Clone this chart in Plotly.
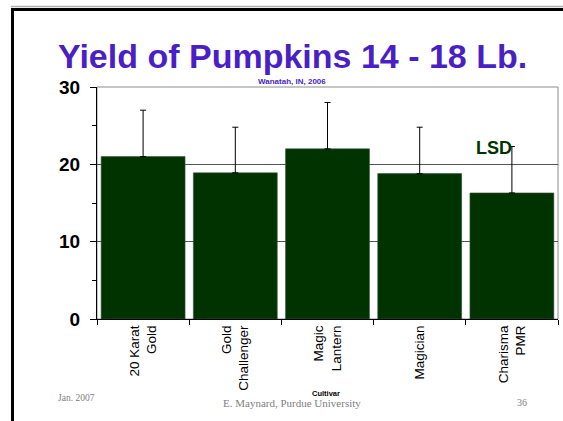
import plotly.graph_objects as go

cultivars = ["20 Karat<br>Gold", "Gold<br>Challenger", "Magic<br>Lantern", "Magician", "Charisma<br>PMR"]
yield_vals = [21.0, 18.9, 22.0, 18.8, 16.3]
error_vals = [6.0, 5.9, 6.0, 6.0, 6.0]
y_ticks = [0, 10, 20, 30]

W, H = 563, 421
L, R, T, B = 97, 5, 87, 102
PW, PH = W - L - R, H - T - B


def px(x):
    return (x - L) / PW


def py(y):
    return (H - B - y) / PH


fig = go.Figure()
fig.add_trace(go.Bar(
    x=cultivars, y=yield_vals,
    marker=dict(color="#003300", line=dict(width=0.6, color="#35553a")),
    error_y=dict(type="data", symmetric=False, array=error_vals,
                 arrayminus=[0] * len(error_vals),
                 color="black", thickness=1, width=3),
))

purple = "#4a1fc6"
ann = [
    dict(text="<b>Yield of Pumpkins 14 - 18 Lb.</b>", x=px(292), y=py(56),
         font=dict(family="Arial, Liberation Sans", size=34, color=purple)),
    dict(text="<b>Wanatah, IN, 2006</b>", x=px(292), y=py(81.5),
         font=dict(family="Arial, Liberation Sans", size=8, color=purple)),
    dict(text="<b>Cultivar</b>", x=px(325.5), y=py(393),
         font=dict(family="Arial, Liberation Sans", size=7.5, color="black")),
    dict(text="Jan. 2007", x=px(76.5), y=py(398),
         font=dict(family="Liberation Serif, Times New Roman", size=9.5, color="#808080")),
    dict(text="E. Maynard, Purdue University", x=px(291.5), y=py(402.5),
         font=dict(family="Liberation Serif, Times New Roman", size=11, color="#808080")),
    dict(text="36", x=px(521.7), y=py(402.5),
         font=dict(family="Liberation Serif, Times New Roman", size=10, color="#808080")),
]
annotations = [dict(a, xref="paper", yref="paper", showarrow=False,
                    xanchor="center", yanchor="middle") for a in ann]
annotations.append(dict(text="<b>LSD</b>", x=3.81, y=22.1, xref="x", yref="y",
                        showarrow=False, xanchor="center", yanchor="middle",
                        font=dict(family="Arial, Liberation Sans", size=18, color="#003300")))

shapes = [
    # plot area border (gray)
    dict(type="rect", xref="paper", yref="paper", x0=0, x1=1, y0=0, y1=1,
         line=dict(color="#8c8c8c", width=1), layer="below"),
    # slide frame
    dict(type="line", xref="paper", yref="paper", x0=px(11), x1=px(575), y0=py(6.5), y1=py(6.5),
         line=dict(color="#b0b0b0", width=1.5)),
    dict(type="line", xref="paper", yref="paper", x0=px(12.5), x1=px(575), y0=py(9.5), y1=py(9.5),
         line=dict(color="black", width=3)),
    dict(type="line", xref="paper", yref="paper", x0=px(12.5), x1=px(12.5), y0=py(8), y1=py(430),
         line=dict(color="black", width=3)),
]

fig.update_layout(
    width=W, height=H,
    margin=dict(l=L, r=R, t=T, b=B, pad=0),
    paper_bgcolor="white", plot_bgcolor="white",
    showlegend=False,
    bargap=0.09,
    annotations=annotations,
    shapes=shapes,
    font=dict(family="Arial, Liberation Sans", color="black"),
)
fig.update_xaxes(
    type="category", tickangle=-90, tickson="boundaries",
    ticks="outside", ticklen=5, tickcolor="black", tickwidth=1,
    showline=True, linecolor="black", linewidth=1,
    showgrid=False,
    tickfont=dict(family="Arial, Liberation Sans", size=13.5, color="black"),
)
fig.update_yaxes(
    range=[0, 30], tickvals=y_ticks,
    ticks="outside", ticklen=6, tickcolor="black", tickwidth=1,
    showline=True, linecolor="black", linewidth=1,
    showgrid=True, gridcolor="#555555", gridwidth=1, zeroline=False,
    minor=dict(tickvals=[5, 15, 25], ticks="outside", ticklen=4, tickcolor="black", showgrid=False),
    tickfont=dict(family="Arial, Liberation Sans", size=19, color="black", weight="bold"),
    ticklabelstandoff=6,
)

fig.write_html("out.html", config={"displayModeBar": False},
               post_script="document.body.style.margin='0';document.body.style.overflow='hidden';")
